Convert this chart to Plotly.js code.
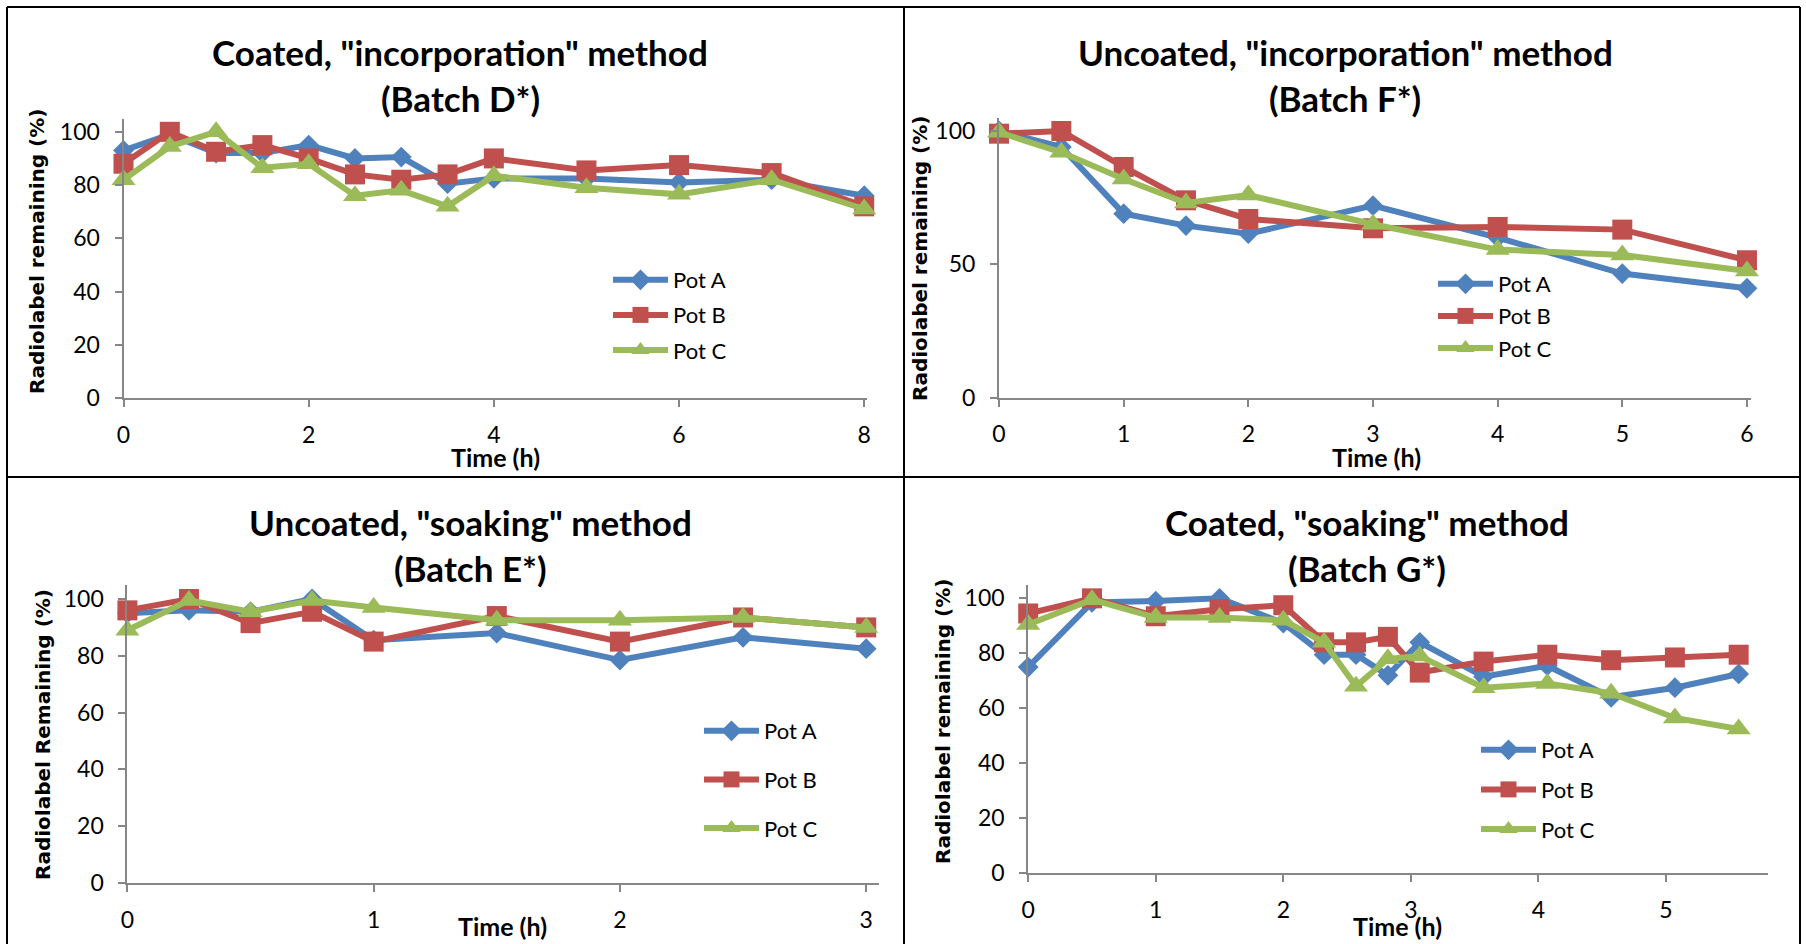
<!DOCTYPE html>
<html>
<head>
<meta charset="utf-8">
<script src="https://cdn.plot.ly/plotly-3.0.1.min.js"></script>
<style>
html,body{margin:0;padding:0;background:#fff;}
#chart{width:1806px;height:944px;}
</style>
</head>
<body>
<div id="chart"></div>
<script>
// ---------- DATA ----------
const seriesNames = ["Pot A", "Pot B", "Pot C"];

// Panel 1: Coated, "incorporation" method (Batch D*)
const timeD = [0, 0.5, 1, 1.5, 2, 2.5, 3, 3.5, 4, 5, 6, 7, 8];
const potA_D = [93, 99, 92, 92, 95, 90, 90.5, 80.5, 82.5, 82.5, 81, 82, 76];
const potB_D = [88, 100, 92.5, 95, 90, 84, 82, 84, 90, 85.5, 87.5, 84.5, 72];
const potC_D = [82, 94.5, 100, 86.5, 88, 76, 78, 72, 83.5, 79, 76.5, 82, 71];

// Panel 2: Uncoated, "incorporation" method (Batch F*)
const timeF = [0, 0.5, 1, 1.5, 2, 3, 4, 5, 6];
const potA_F = [100, 94, 69, 64.5, 61.5, 72, 60, 46.5, 41];
const potB_F = [99, 100, 86.5, 74, 67, 63.5, 64, 63, 51.5];
const potC_F = [99.5, 92, 82, 73, 76, 65, 55.5, 53.5, 47.5];

// Panel 3: Uncoated, "soaking" method (Batch E*)
const timeE = [0, 0.25, 0.5, 0.75, 1, 1.5, 2, 2.5, 3];
const potA_E = [95, 96, 95.5, 100, 85.5, 88, 78.5, 86.5, 82.5];
const potB_E = [96, 100, 91.5, 95.5, 85, 94, 85, 93.5, 90];
const potC_E = [89, 99.5, 95.5, 99.5, 97, 92.5, 92.5, 93.5, 90];

// Panel 4: Coated, "soaking" method (Batch G*)
const timeG = [0, 0.5, 1, 1.5, 2, 2.32, 2.57, 2.82, 3.07, 3.57, 4.07, 4.57, 5.07, 5.57];
const potA_G = [75, 98.5, 99, 100, 91, 79.5, 79.5, 72, 84, 71.5, 75.5, 64, 67.5, 72.5];
const potB_G = [94.5, 100, 93.5, 96, 97.5, 84, 84, 86, 73, 77, 79.5, 77.5, 78.5, 79.5];
const potC_G = [90.5, 99.5, 93, 93, 92, 84, 68, 78, 79, 67.5, 69, 65.5, 56.5, 52.5];

const titleLine1 = ['Coated, "incorporation" method', 'Uncoated, "incorporation" method', 'Uncoated, "soaking" method', 'Coated, "soaking" method'];
const titleLine2 = ['(Batch D*)', '(Batch F*)', '(Batch E*)', '(Batch G*)'];
const yTitles = ['Radiolabel remaining (%)', 'Radiolabel remaining (%)', 'Radiolabel Remaining (%)', 'Radiolabel remaining (%)'];
const xTitle = 'Time (h)';

// ---------- STYLE / LAYOUT ----------
const W = 1806, H = 944;
const px = x => x / W;
const py = y => 1 - y / H;

const colors = ['#4F81BD', '#C0504D', '#9BBB59'];
const symbols = ['diamond', 'square', 'triangle-up'];
const msizes = [16, 20, 21];

const panels = [
  {t: timeD, ys: [potA_D, potB_D, potC_D], xr: [0, 8.03], dtx: 2, yt: [0,20,40,60,80,100],
   x0: 123.5, x1: 867, yb: 398, yt105: 118.5, title: [460, 52, 98], xt: [495, 457], ytc: [37, 252],
   leg: [608, 259], gap: 3.5},
  {t: timeF, ys: [potA_F, potB_F, potC_F], xr: [0, 6.03], dtx: 1, yt: [0,50,100],
   x0: 999, x1: 1750.7, yb: 397.5, yt105: 117.7, title: [1345, 52, 98], xt: [1376, 457], ytc: [920, 259],
   leg: [1433, 263], gap: 0.5},
  {t: timeE, ys: [potA_E, potB_E, potC_E], xr: [0, 3.05], dtx: 1, yt: [0,20,40,60,80,100],
   x0: 127.4, x1: 878.5, yb: 883, yt105: 584.8, title: [470, 522, 568], xt: [502, 926], ytc: [43, 735],
   leg: [699, 710], gap: 17},
  {t: timeG, ys: [potA_G, potB_G, potC_G], xr: [0, 5.8], dtx: 1, yt: [0,20,40,60,80,100],
   x0: 1028.2, x1: 1768, yb: 873.3, yt105: 584.6, title: [1367, 522, 568], xt: [1397, 926], ytc: [943, 721],
   leg: [1476, 729], gap: 8}
];

const tickFont = {family: 'Lato, "Open Sans", sans-serif', size: 23, color: '#000'};
const legFont = {family: 'Lato, "Open Sans", sans-serif', size: 22, color: '#000'};
const titleFont = {family: 'Lato, "Open Sans", sans-serif', size: 35, color: '#000', weight: 'bold'};
const xTitleFont = {family: 'Lato, "Open Sans", sans-serif', size: 25, color: '#000', weight: 'bold'};
const yTitleFont = {family: '"DejaVu Sans", Verdana, sans-serif', size: 20, color: '#000', weight: 'bold'};

const traces = [];
const layout = {
  width: W, height: H,
  margin: {l: 0, r: 0, t: 0, b: 0},
  paper_bgcolor: '#fff', plot_bgcolor: 'rgba(0,0,0,0)',
  showlegend: true,
  annotations: [],
  shapes: []
};

panels.forEach((p, i) => {
  const n = i + 1;
  const xa = n === 1 ? 'x' : 'x' + n;
  const ya = n === 1 ? 'y' : 'y' + n;
  const legName = n === 1 ? 'legend' : 'legend' + n;
  p.ys.forEach((yv, k) => {
    traces.push({
      type: 'scatter', mode: 'lines+markers',
      x: p.t, y: yv, name: seriesNames[k],
      xaxis: xa, yaxis: ya, legend: legName, legendgroup: 'g' + n + k,
      line: {color: colors[k], width: 6},
      marker: {symbol: symbols[k], size: msizes[k], color: colors[k]},
      cliponaxis: false, hoverinfo: 'x+y+name'
    });
  });
  const axCommon = {
    showline: true, linecolor: '#868686', linewidth: 2,
    ticks: 'outside', tickcolor: '#868686', ticklen: 7, tickwidth: 2,
    showgrid: false, zeroline: false, tickfont: tickFont, fixedrange: true
  };
  layout[n === 1 ? 'xaxis' : 'xaxis' + n] = Object.assign({}, axCommon, {
    domain: [px(p.x0), px(p.x1)], range: p.xr, anchor: ya,
    tickmode: 'linear', tick0: 0, dtick: p.dtx, ticklabelstandoff: 8
  });
  layout[n === 1 ? 'yaxis' : 'yaxis' + n] = Object.assign({}, axCommon, {
    domain: [py(p.yb), py(p.yt105)], range: [0, 105], anchor: xa,
    tickmode: 'array', tickvals: p.yt, ticktext: p.yt.map(String), ticklabelstandoff: 10
  });
  layout[legName] = {
    x: px(p.leg[0]), y: py(p.leg[1]), xanchor: 'left', yanchor: 'top',
    xref: 'paper', yref: 'paper',
    bgcolor: 'rgba(0,0,0,0)', borderwidth: 0, font: legFont,
    traceorder: 'grouped', tracegroupgap: p.gap, itemwidth: 55, itemclick: false, itemdoubleclick: false
  };
  // titles
  layout.annotations.push({
    text: titleLine1[i], x: px(p.title[0]), y: py(p.title[1]), xref: 'paper', yref: 'paper',
    xanchor: 'center', yanchor: 'middle', showarrow: false, font: titleFont
  });
  layout.annotations.push({
    text: titleLine2[i], x: px(p.title[0]), y: py(p.title[2]), xref: 'paper', yref: 'paper',
    xanchor: 'center', yanchor: 'middle', showarrow: false, font: titleFont
  });
  layout.annotations.push({
    text: xTitle, x: px(p.xt[0]), y: py(p.xt[1]), xref: 'paper', yref: 'paper',
    xanchor: 'center', yanchor: 'middle', showarrow: false, font: xTitleFont
  });
  layout.annotations.push({
    text: yTitles[i], x: px(p.ytc[0]), y: py(p.ytc[1]), xref: 'paper', yref: 'paper',
    xanchor: 'center', yanchor: 'middle', showarrow: false, textangle: -90, font: yTitleFont
  });
});

// panel frames
const frame = {type: 'line', xref: 'paper', yref: 'paper', line: {color: '#000', width: 2}};
layout.shapes.push(Object.assign({}, frame, {x0: px(7), x1: px(1800), y0: py(7), y1: py(7)}));
layout.shapes.push(Object.assign({}, frame, {x0: px(7), x1: px(7), y0: py(7), y1: py(944)}));
layout.shapes.push(Object.assign({}, frame, {x0: px(1800), x1: px(1800), y0: py(7), y1: py(944)}));
layout.shapes.push(Object.assign({}, frame, {x0: px(904), x1: px(904), y0: py(7), y1: py(944)}));
layout.shapes.push(Object.assign({}, frame, {x0: px(7), x1: px(1800), y0: py(477), y1: py(477)}));

Plotly.newPlot('chart', traces, layout, {displayModeBar: false, staticPlot: false});
</script>
</body>
</html>
